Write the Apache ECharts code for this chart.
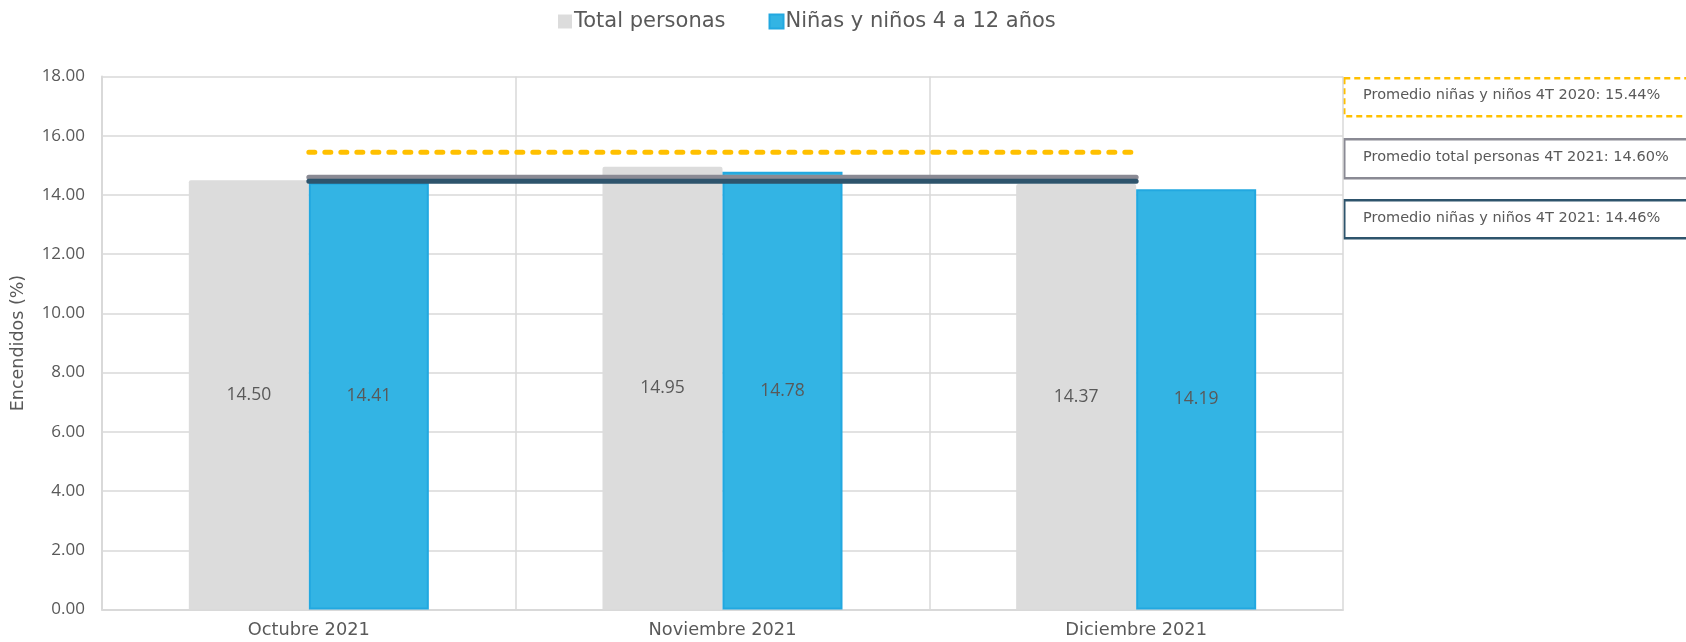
<!DOCTYPE html>
<html>
<head>
<meta charset="utf-8">
<script src="https://cdn.jsdelivr.net/npm/echarts@6/dist/echarts.min.js"></script>
<style>
html,body{margin:0;padding:0;background:#fff;}
#c{width:1686px;height:642px;}
</style>
</head>
<body>
<div id="c"></div>
<script>
var categories = ['Octubre 2021', 'Noviembre 2021', 'Diciembre 2021'];
var totalPersonas = [14.50, 14.95, 14.37];
var ninos = [14.41, 14.78, 14.19];
var promNinos2020 = [15.44, 15.44, 15.44];
var promTotal2021 = [14.60, 14.60, 14.60];
var promNinos2021 = [14.46, 14.46, 14.46];
var yTicks = {min: 0, max: 18, interval: 2};
var notes = [
  'Promedio niñas y niños 4T 2020: 15.44%',
  'Promedio total personas 4T 2021: 14.60%',
  'Promedio niñas y niños 4T 2021: 14.46%'
];

var TFONT = 'DejaVu Sans';
var NFONT = 'Open Sans';
var TXT = '#595959';
var chart = echarts.init(document.getElementById('c'));

var option = {
  animation: false,
  textStyle: {fontFamily: TFONT},
  legend: {
    top: 6,
    left: 553,
    itemWidth: 14,
    itemHeight: 14,
    itemGap: 43,
    icon: 'rect',
    data: ['Total personas', 'Niñas y niños 4 a 12 años'],
    textStyle: {fontFamily: TFONT, fontSize: 21, color: TXT, padding: [0, 0, 0, -3]}
  },
  grid: {left: 102, right: 343, top: 76.5, bottom: 32.5, containLabel: false},
  xAxis: {
    type: 'category',
    data: categories,
    boundaryGap: true,
    axisLine: {lineStyle: {color: '#d9d9d9', width: 2}},
    axisTick: {show: false},
    axisLabel: {fontFamily: TFONT, fontSize: 17.8, color: TXT, margin: 12},
    splitLine: {show: true, lineStyle: {color: '#d9d9d9', width: 1.5}}
  },
  yAxis: {
    type: 'value',
    min: yTicks.min,
    max: yTicks.max,
    interval: yTicks.interval,
    name: 'Encendidos (%)',
    nameLocation: 'middle',
    nameGap: 75,
    nameTextStyle: {fontFamily: TFONT, fontSize: 17.5, color: TXT},
    axisLine: {show: true, lineStyle: {color: '#d9d9d9', width: 2}},
    axisTick: {show: false},
    axisLabel: {fontFamily: NFONT, fontSize: 17, color: TXT, margin: 17,
      formatter: function (v) { return v.toFixed(2); }},
    splitLine: {show: true, lineStyle: {color: '#d9d9d9', width: 1.5}}
  },
  series: [
    {
      name: 'Total personas',
      type: 'bar',
      data: totalPersonas,
      barWidth: 120,
      barGap: '0%',
      itemStyle: {color: '#dcdcdc', borderRadius: [2, 2, 0, 0]},
      label: {show: true, position: 'inside', fontFamily: NFONT, fontSize: 17.5, color: TXT,
        formatter: function (p) { return p.value.toFixed(2); }},
      z: 2
    },
    {
      name: 'Niñas y niños 4 a 12 años',
      type: 'bar',
      data: ninos,
      barWidth: 120,
      barGap: '0%',
      itemStyle: {color: '#33b4e4', borderColor: '#22a8e0', borderWidth: 2},
      label: {show: true, position: 'inside', fontFamily: NFONT, fontSize: 17.5, color: TXT,
        formatter: function (p) { return p.value.toFixed(2); }},
      z: 2
    },
    {
      name: 'prom2020',
      type: 'line',
      data: promNinos2020,
      symbol: 'none',
      lineStyle: {color: '#ffc000', width: 5, type: [6, 10], cap: 'round'},
      z: 5
    },
    {
      name: 'promTotal2021',
      type: 'line',
      data: promTotal2021,
      symbol: 'none',
      lineStyle: {color: '#8a8a94', width: 5, cap: 'round'},
      z: 5
    },
    {
      name: 'promNinos2021',
      type: 'line',
      data: promNinos2021,
      symbol: 'none',
      lineStyle: {color: '#2e546c', width: 5, cap: 'round'},
      z: 6
    }
  ],
  graphic: [
    {type: 'rect', left: 1343, top: 77, shape: {width: 400, height: 38},
      style: {fill: '#fff', stroke: '#ffc000', lineWidth: 2.5, lineDash: [6, 4]}},
    {type: 'text', left: 1363, top: 88, style: {text: notes[0], fill: TXT, font: '14.5px "DejaVu Sans"'}},
    {type: 'rect', left: 1343, top: 138, shape: {width: 400, height: 39},
      style: {fill: '#fff', stroke: '#8a8a94', lineWidth: 2.5}},
    {type: 'text', left: 1363, top: 150, style: {text: notes[1], fill: TXT, font: '14.5px "DejaVu Sans"'}},
    {type: 'rect', left: 1343, top: 199, shape: {width: 400, height: 38},
      style: {fill: '#fff', stroke: '#2e546c', lineWidth: 2.5}},
    {type: 'text', left: 1363, top: 211, style: {text: notes[2], fill: TXT, font: '14.5px "DejaVu Sans"'}}
  ]
};
chart.setOption(option);
</script>
</body>
</html>
